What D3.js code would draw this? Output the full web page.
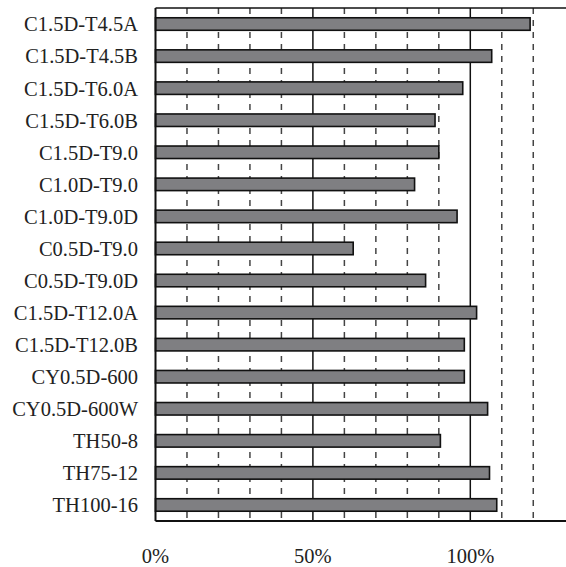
<!DOCTYPE html>
<html>
<head>
<meta charset="utf-8">
<script src="https://cdn.jsdelivr.net/npm/d3@7"></script>
<style>
  html, body { margin: 0; padding: 0; background: #fff; }
  svg { display: block; }
  text { font-family: "Liberation Serif", "Times New Roman", serif; fill: #222; }
</style>
</head>
<body>
<svg id="chart" width="566" height="567"></svg>
<script>
// Specimen names, top to bottom
const categories = [
  "C1.5D-T4.5A", "C1.5D-T4.5B", "C1.5D-T6.0A", "C1.5D-T6.0B", "C1.5D-T9.0",
  "C1.0D-T9.0", "C1.0D-T9.0D", "C0.5D-T9.0", "C0.5D-T9.0D", "C1.5D-T12.0A",
  "C1.5D-T12.0B", "CY0.5D-600", "CY0.5D-600W", "TH50-8", "TH75-12", "TH100-16"
];
// Ratio in percent for each specimen
const ratios = [
  119.0, 106.8, 97.6, 88.8, 90.0,
  82.3, 95.8, 62.8, 85.8, 102.0,
  98.1, 98.1, 105.5, 90.5, 106.1, 108.4
];
// Axis labels and gridline positions (percent)
const tickLabels = [0, 50, 100];
const solidGrid = [50, 100];
const dashedGrid = [10, 20, 30, 40, 60, 70, 80, 90, 110, 120];

const svg = d3.select("#chart");
const plotLeft = 155.5, plotRight = 566, plotTop = 8, plotBottom = 521;

const x = d3.scaleLinear().domain([0, 130.4]).range([plotLeft, plotRight]);
const y = d3.scaleBand().domain(categories).range([plotTop, plotBottom])
  .paddingInner(0.61).paddingOuter(0.305);

// Gridlines
svg.append("g").selectAll("line").data(dashedGrid).join("line")
  .attr("x1", d => x(d)).attr("x2", d => x(d))
  .attr("y1", plotTop).attr("y2", plotBottom)
  .attr("stroke", "#444").attr("stroke-width", 1.5)
  .attr("stroke-dasharray", "6,6");

svg.append("g").selectAll("line").data(solidGrid).join("line")
  .attr("x1", d => x(d)).attr("x2", d => x(d))
  .attr("y1", plotTop).attr("y2", plotBottom)
  .attr("stroke", "#111").attr("stroke-width", 1.5);

// Bars
svg.append("g").selectAll("rect").data(categories).join("rect")
  .attr("x", x(0))
  .attr("y", d => y(d))
  .attr("width", (d, i) => x(ratios[i]) - x(0))
  .attr("height", y.bandwidth())
  .attr("fill", "#7f7f82")
  .attr("stroke", "#111")
  .attr("stroke-width", 1.6);

// Frame: top and bottom edges, left axis
svg.append("line").attr("x1", plotLeft).attr("x2", plotRight).attr("y1", plotTop).attr("y2", plotTop)
  .attr("stroke", "#111").attr("stroke-width", 1.5);
svg.append("line").attr("x1", plotLeft).attr("x2", plotRight).attr("y1", plotBottom).attr("y2", plotBottom)
  .attr("stroke", "#111").attr("stroke-width", 1.8);
svg.append("line").attr("x1", plotLeft).attr("x2", plotLeft).attr("y1", plotTop).attr("y2", plotBottom)
  .attr("stroke", "#111").attr("stroke-width", 2);

// Category labels
svg.append("g").selectAll("text").data(categories).join("text")
  .attr("x", 138)
  .attr("y", d => y(d) + y.bandwidth() / 2 + 7.4)
  .attr("text-anchor", "end")
  .attr("font-size", 20.5)
  .text(d => d);

// Percent labels
svg.append("g").selectAll("text").data(tickLabels).join("text")
  .attr("x", d => x(d))
  .attr("y", 563)
  .attr("text-anchor", "middle")
  .attr("font-size", 20.5)
  .text(d => d + "%");
</script>
</body>
</html>
